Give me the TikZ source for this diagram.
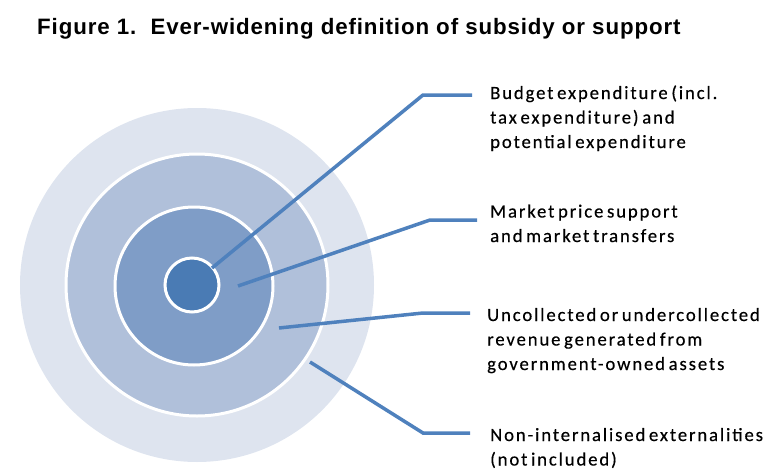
\documentclass[tikz,border=0pt]{standalone}
\usepackage{fontspec}
\setmainfont{Carlito}[LetterSpace=10,WordSpace=0.6,FakeBold=0.4]
\newfontfamily\titlefont{Liberation Sans}[LetterSpace=4]
\usetikzlibrary{positioning}
\definecolor{ringA}{RGB}{222,228,239}
\definecolor{ringB}{RGB}{176,192,218}
\definecolor{ringC}{RGB}{127,157,199}
\definecolor{ringD}{RGB}{74,123,180}
\definecolor{leaderblue}{RGB}{79,129,189}

\begin{document}
\begin{tikzpicture}[x=1pt,y=-1pt,
	ring/.style={circle,draw=white,line width=3pt,inner sep=0pt},
	leader/.style={draw=leaderblue,line width=3.5pt},
	label text/.style={anchor=base west,align=left,inner sep=0pt,
		font=\fontsize{18.7}{24.5}\selectfont}]
	\useasboundingbox (0,0) rectangle (769,471);
	
	\node[anchor=base west,inner sep=0pt,
		font=\titlefont\bfseries\fontsize{22.3}{26}\selectfont] (title) at (37,34.5)
		{Figure 1.\ \ Ever-widening definition of subsidy or support};
	
	% rings, from outside in
	\node[ring, draw=none, fill=ringA, minimum size=354] (outer)  at (197,285) {};
	\node[ring, fill=ringB, minimum size=262] (market) at (197,285) {};
	\node[ring, fill=ringC, minimum size=158] (price)  at (194,286) {};
	\node[ring, fill=ringD, minimum size=54]  (budget) at (192,285) {};
	
	% base anchor sits on the last line
	\node[label text] (budgetlbl) at (490,148)
		{Budget expenditure (incl.\\tax expenditure) and\\potential expenditure};
	\node[label text] (pricelbl) at (490,242)
		{Market price support\\and market transfers};
	\node[label text] (revlbl) at (487,370)
		{Uncollected or undercollected\\revenue generated from\\government-owned assets};
	\node[label text] (extlbl) at (490,465.5)
		{Non-internalised externalities\\(not included)};
	
	% leader lines
	\coordinate (s1) at (212,268);
	\coordinate (s2) at (238,286);
	\coordinate (s3) at (279,328);
	\coordinate (s4) at (310,362);
	\coordinate (k1) at (423,95);
	\coordinate (k2) at (430,220);
	\coordinate (k3) at (423,313);
	\coordinate (k4) at (423,433);
	\coordinate (e1) at (472,95);
	\coordinate (e2) at (477,220);
	\coordinate (e3) at (470,313);
	\coordinate (e4) at (470,433);
	\foreach \i in {1,...,4}
		\draw[leader] (s\i) -- (k\i) -- (e\i);
\end{tikzpicture}
\end{document}
